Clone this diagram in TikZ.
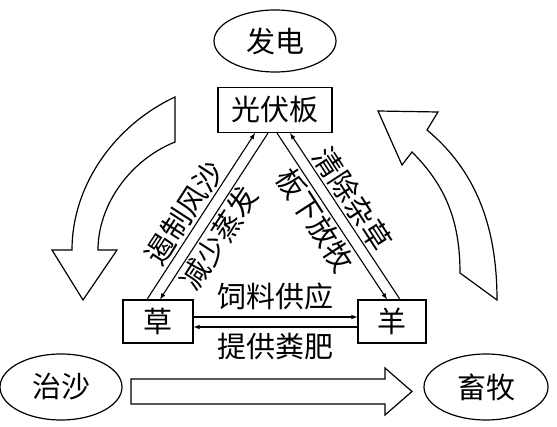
\documentclass[tikz,border=0pt]{standalone}
\usepackage{fontspec}
\setmainfont{Noto Sans CJK SC}
\usetikzlibrary{shapes.geometric}

\tikzset{
  box/.style={draw, line width=1.2pt, rectangle, inner sep=0pt},
  oval/.style={draw, line width=1.2pt, ellipse, inner sep=0pt, minimum width=122pt, minimum height=66pt},
  flow/.style={line width=1.1pt, -latex},
  lab/.style={inner sep=2pt},
  bigarrow/.style={draw, line width=1.2pt, fill=white, line join=miter}
}

\begin{document}
\begin{tikzpicture}[x=1pt, y=-1pt, font=\fontsize{29}{30}\selectfont]
  \useasboundingbox (0,0) rectangle (557,427);
  \node[oval, minimum height=62pt] (fadian) at (275,41) {发电};
  \node[box, minimum width=114pt, minimum height=45pt] (gfb) at (275,110) {光伏板};
  \node[box, minimum width=70pt, minimum height=43pt] (cao) at (158,321.5) {草};
  \node[box, minimum width=68pt, minimum height=43pt] (yang) at (392,321.5) {羊};
  \node[oval] (zhisha) at (61,387) {治沙};
  \node[oval, minimum width=124pt] (xumu) at (486,387) {畜牧};

  \draw[flow] ([xshift=-11pt]cao.north) -- ([xshift=-20pt]gfb.south)
    node[lab, pos=.47, rotate=57, anchor=south] {遏制风沙};
  \draw[flow] ([xshift=-7pt]gfb.south) -- ([xshift=2pt]cao.north)
    node[lab, pos=.58, rotate=57, anchor=north] {减少蒸发};
  \draw[flow] ([xshift=2pt]gfb.south) -- ([xshift=-5pt]yang.north)
    node[lab, pos=.47, rotate=-57, anchor=north] {板下放牧};
  \draw[flow] ([xshift=8pt]yang.north) -- ([xshift=15pt]gfb.south)
    node[lab, pos=.55, rotate=-57, anchor=south] {清除杂草};
  \draw[flow] ([yshift=4.5pt]cao.east) -- ([yshift=4.5pt]yang.west)
    node[lab, midway, above=4pt] {饲料供应};
  \draw[flow] ([yshift=-5.5pt]yang.west) -- ([yshift=-5.5pt]cao.east)
    node[lab, midway, below=4pt] {提供粪肥};

  % hollow arrows
  \draw[bigarrow] (175,97) .. controls (115,125) and (72,185) .. (72,250)
    -- (52,250) -- (83,300) -- (117,250) -- (98,250)
    .. controls (98,205) and (130,160) .. (175,142) -- cycle;
  \draw[bigarrow] (497,300) .. controls (497,225) and (475,170) .. (427,130)
    -- (438,112) -- (378,111) -- (402,165) -- (412,152)
    .. controls (445,185) and (460,220) .. (460,273) -- cycle;
  \draw[bigarrow] (131,379) -- (385,379) -- (385,368) -- (412,391.5)
    -- (385,415) -- (385,404) -- (131,404) -- cycle;
\end{tikzpicture}
\end{document}
